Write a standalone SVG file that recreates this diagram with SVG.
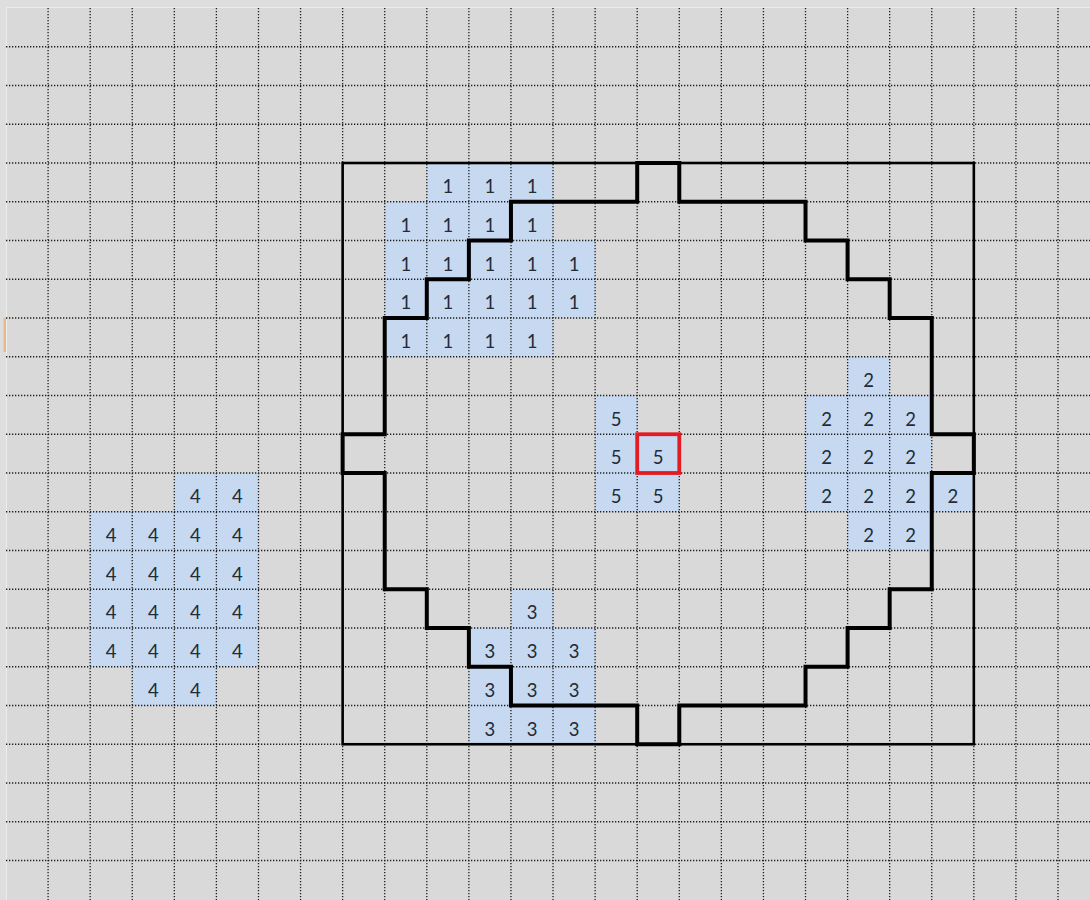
<svg xmlns="http://www.w3.org/2000/svg" width="1090" height="900" viewBox="0 0 1090 900">
<style>
.bg{fill:#d9d9d9}
.c{fill:#c6d9f0}
.g{stroke:#1e1e1e;stroke-width:1.3;stroke-dasharray:1.3 1.7;fill:none}
.t{font-family:Lato,"Open Sans","DejaVu Sans",sans-serif;font-size:18.5px;fill:#222b38;text-anchor:middle}
.frame{fill:none;stroke:#000;stroke-width:2.6}
.wall{fill:none;stroke:#000;stroke-width:4;stroke-linejoin:miter}
.sel{fill:none;stroke:#e31b23;stroke-width:3.8}
</style>
<defs>
<rect id="cell" width="42.08" height="38.75" class="c"/>
</defs>
<rect class="bg" x="0" y="0" width="1090" height="900"/>
<rect x="0" y="0" width="6" height="900" fill="#dedede"/>
<rect x="0" y="0" width="1090" height="7.5" fill="#dedede"/>
<line x1="6.5" y1="7.5" x2="6.5" y2="900" stroke="#ececec" stroke-width="1"/>
<line x1="6.5" y1="7.5" x2="1090" y2="7.5" stroke="#ececec" stroke-width="1"/>
<rect x="3.5" y="318" width="2.5" height="34" fill="#e9a25c" opacity="0.6"/>

<g id="cells-1">
<use href="#cell" x="426.8" y="163"/><use href="#cell" x="468.88" y="163"/><use href="#cell" x="510.96" y="163"/>
<use href="#cell" x="384.72" y="201.75"/><use href="#cell" x="426.8" y="201.75"/><use href="#cell" x="468.88" y="201.75"/><use href="#cell" x="510.96" y="201.75"/>
<use href="#cell" x="384.72" y="240.5"/><use href="#cell" x="426.8" y="240.5"/><use href="#cell" x="468.88" y="240.5"/><use href="#cell" x="510.96" y="240.5"/><use href="#cell" x="553.04" y="240.5"/>
<use href="#cell" x="384.72" y="279.25"/><use href="#cell" x="426.8" y="279.25"/><use href="#cell" x="468.88" y="279.25"/><use href="#cell" x="510.96" y="279.25"/><use href="#cell" x="553.04" y="279.25"/>
<use href="#cell" x="384.72" y="318"/><use href="#cell" x="426.8" y="318"/><use href="#cell" x="468.88" y="318"/><use href="#cell" x="510.96" y="318"/>
</g>
<g id="cells-2">
<use href="#cell" x="847.6" y="356.75"/>
<use href="#cell" x="805.52" y="395.5"/><use href="#cell" x="847.6" y="395.5"/><use href="#cell" x="889.68" y="395.5"/>
<use href="#cell" x="805.52" y="434.25"/><use href="#cell" x="847.6" y="434.25"/><use href="#cell" x="889.68" y="434.25"/>
<use href="#cell" x="805.52" y="473"/><use href="#cell" x="847.6" y="473"/><use href="#cell" x="889.68" y="473"/><use href="#cell" x="931.76" y="473"/>
<use href="#cell" x="847.6" y="511.75"/><use href="#cell" x="889.68" y="511.75"/>
</g>
<g id="cells-5">
<use href="#cell" x="595.12" y="395.5"/>
<use href="#cell" x="595.12" y="434.25"/><use href="#cell" x="637.2" y="434.25"/>
<use href="#cell" x="595.12" y="473"/><use href="#cell" x="637.2" y="473"/>
</g>
<g id="cells-4">
<use href="#cell" x="174.32" y="473"/><use href="#cell" x="216.4" y="473"/>
<use href="#cell" x="90.16" y="511.75"/><use href="#cell" x="132.24" y="511.75"/><use href="#cell" x="174.32" y="511.75"/><use href="#cell" x="216.4" y="511.75"/>
<use href="#cell" x="90.16" y="550.5"/><use href="#cell" x="132.24" y="550.5"/><use href="#cell" x="174.32" y="550.5"/><use href="#cell" x="216.4" y="550.5"/>
<use href="#cell" x="90.16" y="589.25"/><use href="#cell" x="132.24" y="589.25"/><use href="#cell" x="174.32" y="589.25"/><use href="#cell" x="216.4" y="589.25"/>
<use href="#cell" x="90.16" y="628"/><use href="#cell" x="132.24" y="628"/><use href="#cell" x="174.32" y="628"/><use href="#cell" x="216.4" y="628"/>
<use href="#cell" x="132.24" y="666.75"/><use href="#cell" x="174.32" y="666.75"/>
</g>
<g id="cells-3">
<use href="#cell" x="510.96" y="589.25"/>
<use href="#cell" x="468.88" y="628"/><use href="#cell" x="510.96" y="628"/><use href="#cell" x="553.04" y="628"/>
<use href="#cell" x="468.88" y="666.75"/><use href="#cell" x="510.96" y="666.75"/><use href="#cell" x="553.04" y="666.75"/>
<use href="#cell" x="468.88" y="705.5"/><use href="#cell" x="510.96" y="705.5"/><use href="#cell" x="553.04" y="705.5"/>
</g>

<g id="grid" class="g">
<path d="M48.08 8V900M90.16 8V900M132.24 8V900M174.32 8V900M216.4 8V900M258.48 8V900M300.56 8V900M342.64 8V900M384.72 8V900M426.8 8V900M468.88 8V900M510.96 8V900M553.04 8V900M595.12 8V900M637.2 8V900M679.28 8V900M721.36 8V900M763.44 8V900M805.52 8V900M847.6 8V900M889.68 8V900M931.76 8V900M973.84 8V900M1015.92 8V900M1058 8V900"/>
<path d="M6 46.75H1090M6 85.5H1090M6 124.25H1090M6 163H1090M6 201.75H1090M6 240.5H1090M6 279.25H1090M6 318H1090M6 356.75H1090M6 395.5H1090M6 434.25H1090M6 473H1090M6 511.75H1090M6 550.5H1090M6 589.25H1090M6 628H1090M6 666.75H1090M6 705.5H1090M6 744.25H1090M6 783H1090M6 821.75H1090M6 860.5H1090"/>
</g>

<g id="labels-1" class="t">
<text x="447.84" y="193">1</text><text x="489.92" y="193">1</text><text x="532" y="193">1</text>
<text x="405.76" y="231.75">1</text><text x="447.84" y="231.75">1</text><text x="489.92" y="231.75">1</text><text x="532" y="231.75">1</text>
<text x="405.76" y="270.5">1</text><text x="447.84" y="270.5">1</text><text x="489.92" y="270.5">1</text><text x="532" y="270.5">1</text><text x="574.08" y="270.5">1</text>
<text x="405.76" y="309.25">1</text><text x="447.84" y="309.25">1</text><text x="489.92" y="309.25">1</text><text x="532" y="309.25">1</text><text x="574.08" y="309.25">1</text>
<text x="405.76" y="348">1</text><text x="447.84" y="348">1</text><text x="489.92" y="348">1</text><text x="532" y="348">1</text>
</g>
<g id="labels-2" class="t">
<text x="868.64" y="386.75">2</text>
<text x="826.56" y="425.5">2</text><text x="868.64" y="425.5">2</text><text x="910.72" y="425.5">2</text>
<text x="826.56" y="464.25">2</text><text x="868.64" y="464.25">2</text><text x="910.72" y="464.25">2</text>
<text x="826.56" y="503">2</text><text x="868.64" y="503">2</text><text x="910.72" y="503">2</text><text x="952.8" y="503">2</text>
<text x="868.64" y="541.75">2</text><text x="910.72" y="541.75">2</text>
</g>
<g id="labels-5" class="t">
<text x="616.16" y="425.5">5</text>
<text x="616.16" y="464.25">5</text><text x="658.24" y="464.25">5</text>
<text x="616.16" y="503">5</text><text x="658.24" y="503">5</text>
</g>
<g id="labels-4" class="t">
<text x="195.36" y="503">4</text><text x="237.44" y="503">4</text>
<text x="111.2" y="541.75">4</text><text x="153.28" y="541.75">4</text><text x="195.36" y="541.75">4</text><text x="237.44" y="541.75">4</text>
<text x="111.2" y="580.5">4</text><text x="153.28" y="580.5">4</text><text x="195.36" y="580.5">4</text><text x="237.44" y="580.5">4</text>
<text x="111.2" y="619.25">4</text><text x="153.28" y="619.25">4</text><text x="195.36" y="619.25">4</text><text x="237.44" y="619.25">4</text>
<text x="111.2" y="658">4</text><text x="153.28" y="658">4</text><text x="195.36" y="658">4</text><text x="237.44" y="658">4</text>
<text x="153.28" y="696.75">4</text><text x="195.36" y="696.75">4</text>
</g>
<g id="labels-3" class="t">
<text x="532" y="619.25">3</text>
<text x="489.92" y="658">3</text><text x="532" y="658">3</text><text x="574.08" y="658">3</text>
<text x="489.92" y="696.75">3</text><text x="532" y="696.75">3</text><text x="574.08" y="696.75">3</text>
<text x="489.92" y="735.5">3</text><text x="532" y="735.5">3</text><text x="574.08" y="735.5">3</text>
</g>

<g id="frame">
<rect class="frame" x="342.64" y="163" width="631.2" height="581.25"/>
</g>
<g id="wall">
<polygon class="wall" points="510.96,201.75 637.2,201.75 637.2,163 679.28,163 679.28,201.75 805.52,201.75 805.52,240.5 847.6,240.5 847.6,279.25 889.68,279.25 889.68,318 931.76,318 931.76,434.25 973.84,434.25 973.84,473 931.76,473 931.76,589.25 889.68,589.25 889.68,628 847.6,628 847.6,666.75 805.52,666.75 805.52,705.5 679.28,705.5 679.28,744.25 637.2,744.25 637.2,705.5 510.96,705.5 510.96,666.75 468.88,666.75 468.88,628 426.8,628 426.8,589.25 384.72,589.25 384.72,473 342.64,473 342.64,434.25 384.72,434.25 384.72,318 426.8,318 426.8,279.25 468.88,279.25 468.88,240.5 510.96,240.5"/>
</g>
<g id="selected">
<rect class="sel" x="637.2" y="434.25" width="42.08" height="38.75"/>
</g>
</svg>
